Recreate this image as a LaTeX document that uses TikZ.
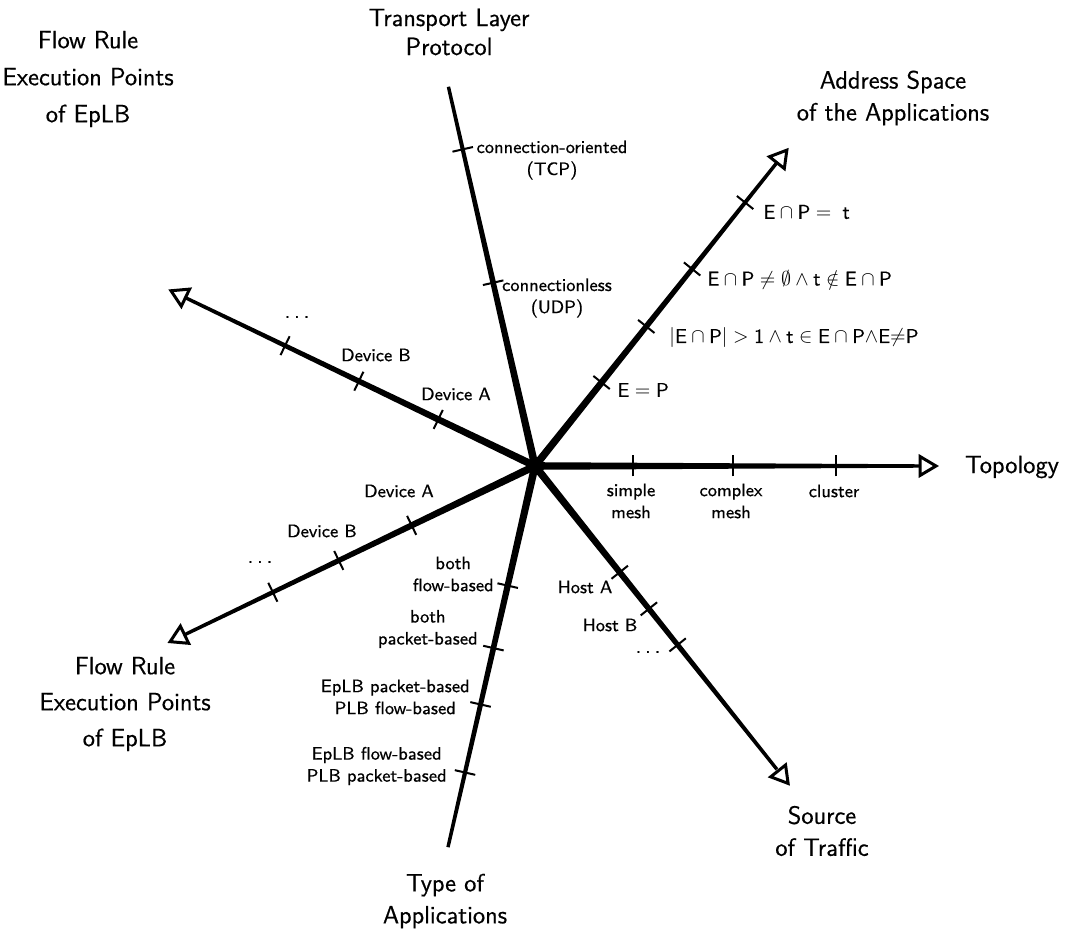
\documentclass[tikz,border=0pt]{standalone}
\usepackage{fontspec}
\setsansfont{Latin Modern Sans}[FakeBold=0.5]
\usetikzlibrary{calc}

% tapered axis bar from the hub O: direction angle, length
\newcommand\taperbar[2]{%
  \fill ($(O)+(#1+90:3.8)$) -- ($(O)+(#1:#2)+(#1+90:1.7)$)
        -- ($(O)+(#1:#2)+(#1-90:1.7)$) -- ($(O)+(#1-90:3.8)$) -- cycle;}
% open triangular head: direction angle, tip radius
\newcommand\openhead[2]{%
  \draw[headtip] ($(O)+(#1:#2)$) -- ($(O)+(#1:{#2-16})+(#1+90:9.5)$)
        -- ($(O)+(#1:{#2-16})+(#1-90:9.5)$) -- cycle;}
% tick across an axis: direction angle, radius
\newcommand\tickat[2]{%
  \draw[tickmark] ($(O)+(#1:#2)+(#1+90:10.5)$) -- ($(O)+(#1:#2)+(#1-90:10.5)$);}
% widely spaced ellipsis
\newcommand\spdots{.\hspace{2.2pt}.\hspace{2.2pt}.}

\begin{document}
\begin{tikzpicture}[x=0.5pt,y=-0.5pt,
  every node/.style={font=\sffamily\fontsize{9}{11}\selectfont, inner sep=0pt},
  lbl/.style={align=center},
  mathlbl/.style={anchor=west, font=\sffamily\fontsize{10}{12}\selectfont},
  ttl/.style={align=center, font=\sffamily\fontsize{12.5}{16}\selectfont},
  tickmark/.style={line width=1pt},
  headtip/.style={draw, line width=1.5pt, fill=white, line join=miter},
]
\useasboundingbox (0,0) rectangle (1067,935);
\coordinate (O) at (535,466);

% seven axes, 360/7 degrees apart
\def\aTopo{0}
\def\aAddr{-51.43}
\def\aTrans{-102.86}
\def\aFlowUp{-154.29}
\def\aFlowLow{154.29}
\def\aType{102.86}
\def\aSrc{51.43}

\taperbar{\aTrans}{389}
\taperbar{\aType}{391}
\taperbar{\aTopo}{388}
\taperbar{\aAddr}{388}
\taperbar{\aFlowUp}{388}
\taperbar{\aFlowLow}{388}
\taperbar{\aSrc}{388}

\openhead{\aTopo}{401}
\openhead{\aAddr}{404}
\openhead{\aFlowUp}{404}
\openhead{\aFlowLow}{405}
\openhead{\aSrc}{406}

% ticks
\foreach \r in {98,198,301} {\tickat{\aTopo}{\r}}
\foreach \r in {106.8,178.5,252,337} {\tickat{\aAddr}{\r}}
\foreach \r in {188,324.8} {\tickat{\aTrans}{\r}}
\foreach \r in {107.4,195.5,277.4} {\tickat{\aFlowUp}{\r}}
\foreach \r in {136.9,217.8,291} {\tickat{\aFlowLow}{\r}}
\foreach \r in {122.7,186.8,244.6,314.4} {\tickat{\aType}{\r}}
\foreach \r in {135.9,182.7,228.8} {\tickat{\aSrc}{\r}}

% axis titles
\node[ttl] (tTopo) at (1012,467) {Topology};
\node[ttl] (tAddr) at (893,98) {Address Space\\of the Applications};
\node[ttl, font=\sffamily\fontsize{12.5}{14.5}\selectfont] (tTrans) at (449,32) {Transport Layer\\Protocol};
\node[ttl, font=\sffamily\fontsize{12.5}{18.5}\selectfont] (tFlowUp) at (88,79) {Flow Rule\\Execution Points\\of EpLB};
\node[ttl, font=\sffamily\fontsize{12.5}{18}\selectfont] (tFlowLow) at (125,704) {Flow Rule\\Execution Points\\of EpLB};
\node[ttl] (tType) at (445,901) {Type of\\Applications};
\node[ttl] (tSrc) at (822,831) {Source\\of Traffic};

% Topology values
\node[lbl] (simple) at (631,501) {simple\\mesh};
\node[lbl] (complex) at (731,501) {complex\\mesh};
\node[lbl] (cluster) at (834,491) {cluster};

% Address space values
\node[mathlbl] (a1) at (763,212) {$\mathsf{E}\cap\mathsf{P} =\;\mathsf{t}$};
\node[mathlbl] (a2) at (707,280) {$\mathsf{E}\cap\mathsf{P}\neq\emptyset\land\mathsf{t}\notin\mathsf{E}\cap\mathsf{P}$};
\node[mathlbl] (a3) at (669,338) {$|\mathsf{E}\cap\mathsf{P}| > \mathsf{1}\land\mathsf{t}\in\mathsf{E}\cap\mathsf{P}{\land}\mathsf{E}{\neq}\mathsf{P}$};
\node[mathlbl] (a4) at (617,390) {$\mathsf{E}=\mathsf{P}$};

% Transport values
\node[lbl] (tcp) at (552,160) {connection-oriented\\(TCP)};
\node[lbl] (udp) at (557,298) {connectionless\\(UDP)};

% upper execution points
\node (uA) at (456,394) {Device A};
\node (uB) at (376,355) {Device B};
\node (uD) at (297,317) {\spdots};

% lower execution points
\node (lA) at (399,491) {Device A};
\node (lB) at (322,531) {Device B};
\node (lD) at (260,562) {\spdots};

% application types
\node[lbl, anchor=east] (ty1) at (494,574) {both\\flow-based};
\node[lbl, anchor=east] (ty2) at (478,629) {both\\packet-based};
\node[lbl, anchor=east] (ty3) at (470,697) {EpLB packet-based\\PLB flow-based};
\node[lbl, anchor=east] (ty4) at (447,766) {EpLB flow-based\\PLB packet-based};

% traffic sources
\node (hA) at (585,587) {Host A};
\node (hB) at (610,625) {Host B};
\node (hD) at (648,652) {\spdots};
\end{tikzpicture}
\end{document}
